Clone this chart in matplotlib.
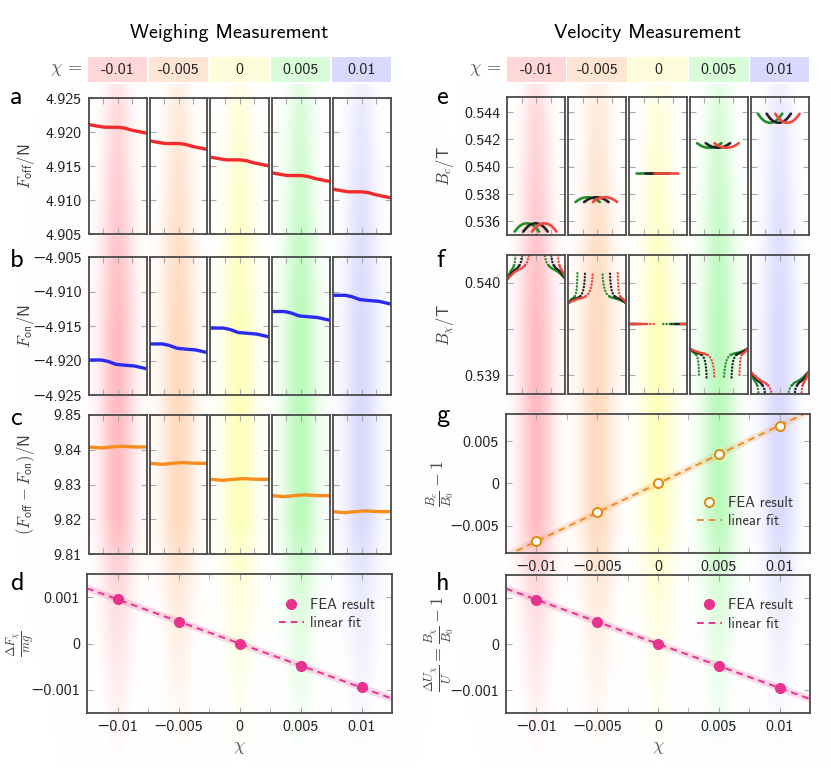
import matplotlib.pyplot as plt
import numpy as np

plt.rcParams['font.family'] = ['cmss10', 'DejaVu Sans']
plt.rcParams['mathtext.fontset'] = 'cm'

W, H = 831, 774

# susceptibility values and header boxes
chi = [-0.01, -0.005, 0, 0.005, 0.01]
chi_labels = ['-0.01', '-0.005', '0', '0.005', '0.01']
chi_ticklabels = ['\u22120.01', '\u22120.005', '0', '0.005', '0.01']
box_colors = ['#ffd7d7', '#ffe6d4', '#fffcdc', '#d9fdd9', '#d9d9fd']
band_colors = [(255, 188, 194), (255, 218, 190), (255, 255, 188), (188, 250, 188), (218, 218, 255)]

# panel a: F_off along each window
a_x = [-1, -0.67, -0.44, 0.02, 0.26, 0.49, 1]
a_shape = [0, -0.00025, -0.0004, -0.0004, -0.00054, -0.00083, -0.00127]
a_start = [4.9211, 4.9187, 4.9163, 4.9140, 4.9116]

# panel b: F_on
b_x = [-1, -0.56, -0.33, -0.05, 0.3, 0.59, 1]
b_shape = [0, 0, -0.0002, -0.00063, -0.00077, -0.00087, -0.00126]
b_start = [-4.91993, -4.9176, -4.9153, -4.9129, -4.91055]

# panel c: F_off - F_on
c_x = [-1, -0.56, -0.21, 0.14, 0.6, 1]
c_shape = [0, -0.0003, 0, 0.0002, 0, 0]
c_start = [9.8408, 9.8361, 9.8315, 9.8268, 9.8222]

# panel d / h / g: FEA results
d_val = [0.000957, 0.000472, 0.0, -0.000478, -0.000948]
h_val = [0.000963, 0.000488, 0.0, -0.000475, -0.000956]
g_val = [-0.00684, -0.0034, 0.0, 0.00343, 0.00683]

# panel e: B_c arcs (green, black, red)
arc_colors = ['#1f8f2a', '#222222', '#f2473f']
arc_center = [-0.33, -0.03, 0.27]
arc_t = [-1, -0.85, -0.7, -0.5, -0.3, -0.1, 0.1, 0.3, 0.5, 0.7, 0.85, 1]
arc_h = [1, 0.72, 0.47, 0.22, 0.07, 0, 0, 0.07, 0.22, 0.47, 0.72, 1]
e_level = [0.53585, 0.53776, 0.53956, 0.54139, 0.54322]
e_height = [0.0006, 0.00035, 0.0, -0.00033, -0.00066]

# panel f: B_chi arms
f_base = [0.54004, 0.53978, 0.53956, 0.53929, 0.53904]
f_scale = [2.0, 1.0, 0.0, -0.92, -2.0]
tips_left = [-0.68, -0.42, -0.15]
tips_right = [0.18, 0.44, 0.71]
arm_u = [0, 0.15, 0.3, 0.45, 0.6, 0.72, 0.8, 0.86, 0.9, 0.93, 0.955, 0.975, 0.99, 1.0]
arm_dy = [0, 0.2, 0.38, 0.5, 0.6, 0.75, 0.92, 1.2, 1.45, 1.75, 2.1, 2.5, 2.95, 3.4]
n_solid = 6

pink = '#e8338e'
orange = '#f08c28'

fig = plt.figure(figsize=(W / 100, H / 100), dpi=100)


def px_axes(x0, y0, x1, y1):
    return fig.add_axes([x0 / W, 1 - y1 / H, (x1 - x0) / W, (y1 - y0) / H])


cols = [(87, 392), (506, 810)]
rows = [[(98, 234), (257, 395), (415, 554), (574, 713)],
        [(97, 235), (255, 394), (414, 553), (575, 713)]]
label_x = [37, 456]


def chi_px(col, c):
    x0, x1 = cols[col]
    return x0 + (c + 0.0125) / 0.025 * (x1 - x0)


# background colour bands
yy = np.arange(H) + 0.5
xx = np.arange(W) + 0.5
amp = np.interp(yy, [84, 110, 250, 330, 520, 575, 650, 720, 765],
                [0.35, 0.55, 0.85, 1.0, 1.0, 0.6, 0.35, 0.15, 0.0])
amp[yy < 84] = 0
sig = np.interp(yy, [84, 300, 560, 760], [9, 12, 12, 7])
img = np.ones((H, W, 3))
for col in range(2):
    for k, c in enumerate(chi):
        cx = chi_px(col, c)
        a = amp[:, None] * np.exp(-0.5 * ((xx[None, :] - cx) / sig[:, None]) ** 2)
        rgb = np.array(band_colors[k]) / 255
        img = img * (1 - a[..., None]) + rgb * a[..., None]
ax_bg = fig.add_axes([0, 0, 1, 1])
ax_bg.imshow(img, extent=(0, W, H, 0), aspect='auto', interpolation='bilinear')
ax_bg.set_xlim(0, W)
ax_bg.set_ylim(H, 0)
ax_bg.axis('off')
ax_bg.set_zorder(-5)

frame_c = '#4a4a4a'
tick_c = '#aaaaaa'


def style(ax):
    ax.set_facecolor('none')
    ax.tick_params(which='both', direction='in', top=True, right=True, length=4,
                   color=tick_c, labelsize=11.5, labelcolor='#222222', pad=5)
    for s in ax.spines.values():
        s.set_color(frame_c)
        s.set_linewidth(1.3)


def small_row(col, row, ylim, yticks, ylabels, ylabel):
    y0, y1 = rows[col][row]
    axes = []
    for k, c in enumerate(chi):
        cx = chi_px(col, c)
        ax = px_axes(cx - 29, y0, cx + 29, y1)
        style(ax)
        ax.set_xlim(-1, 1)
        ax.set_ylim(*ylim)
        ax.set_xticks([-0.5, 0, 0.5])
        ax.set_xticklabels([])
        ax.set_yticks(yticks)
        if k == 0:
            ax.set_yticklabels(ylabels)
            ax.set_ylabel(ylabel, fontsize=12, color='#444444')
            ax.yaxis.set_label_coords((label_x[col] - (cx - 29)) / 58, 0.5)
        else:
            ax.set_yticklabels([])
        axes.append(ax)
    return axes


# a
axs = small_row(0, 0, (4.905, 4.925), [4.905, 4.91, 4.915, 4.92, 4.925],
                ['4.905', '4.910', '4.915', '4.920', '4.925'], r'$F_{\mathsf{off}}/\mathsf{N}$')
for k, ax in enumerate(axs):
    ax.plot(a_x, a_start[k] + np.array(a_shape), color='#f22a2a', lw=2.4, solid_capstyle='butt')

# b
axs = small_row(0, 1, (-4.925, -4.905), [-4.925, -4.92, -4.915, -4.91, -4.905],
                ['\u22124.925', '\u22124.920', '\u22124.915', '\u22124.910', '\u22124.905'],
                r'$F_{\mathsf{on}}/\mathsf{N}$')
for k, ax in enumerate(axs):
    ax.plot(b_x, b_start[k] + np.array(b_shape), color='#2a2af0', lw=2.4, solid_capstyle='butt')

# c
axs = small_row(0, 2, (9.81, 9.85), [9.81, 9.82, 9.83, 9.84, 9.85],
                ['9.81', '9.82', '9.83', '9.84', '9.85'],
                r'$(F_{\mathsf{off}}-F_{\mathsf{on}})/\mathsf{N}$')
for k, ax in enumerate(axs):
    ax.plot(c_x, c_start[k] + np.array(c_shape), color='#f88c1c', lw=2.4, solid_capstyle='butt')

# e
axs = small_row(1, 0, (0.535, 0.5451), [0.536, 0.538, 0.540, 0.542, 0.544],
                ['0.536', '0.538', '0.540', '0.542', '0.544'], r'$B_c/\mathsf{T}$')
for k, ax in enumerate(axs):
    for j, colr in enumerate(arc_colors):
        xs = arc_center[j] + np.array(arc_t) * 0.42
        ys = e_level[k] - np.array(arc_h) * e_height[k]
        ax.plot(xs, ys, color=colr, lw=1.9, solid_capstyle='round')

# f
axs = small_row(1, 1, (0.5388, 0.5403), [0.539, 0.5395, 0.540],
                ['0.539', '', '0.540'], r'$B_\chi/\mathsf{T}$')
u = np.array(arm_u)
for k, ax in enumerate(axs):
    ys = f_base[k] + np.array(arm_dy) * 1e-4 * f_scale[k]
    for j, colr in enumerate(arc_colors):
        xl = -1 + u * (tips_left[j] + 1)
        xr = 1 - u * (1 - tips_right[j])
        for xs in (xl, xr):
            ax.plot(xs[:n_solid], ys[:n_solid], color=colr, lw=1.7, solid_capstyle='round')
            ax.plot(xs[n_solid - 1:], ys[n_solid - 1:], color=colr, lw=1.7,
                    ls=(0, (0.1, 1.3)), dash_capstyle='round')


def big_panel(col, row, vals, ylim, yticks, ylabels, ylabel, open_marker, color, mcolor,
              legend_loc, legend_anchor, xlabel):
    x0, x1 = cols[col]
    y0, y1 = rows[col][row]
    ax = px_axes(x0, y0, x1, y1)
    style(ax)
    ax.set_xlim(-0.0125, 0.0125)
    ax.set_ylim(*ylim)
    ax.set_xticks(chi)
    ax.set_xticklabels(chi_ticklabels)
    ax.set_xticks([-0.0075, -0.0025, 0.0025, 0.0075], minor=True)
    ax.set_yticks(yticks)
    ax.set_yticklabels(ylabels)
    ax.set_ylabel(ylabel, fontsize=13, color='#444444')
    ax.yaxis.set_label_coords((label_x[col] - x0) / (x1 - x0), 0.5)
    coef = np.polyfit(chi, vals, 1)
    xf = np.array([-0.0125, 0.0125])
    ax.plot(xf, np.polyval(coef, xf), color=color, lw=5, alpha=0.18, solid_capstyle='butt')
    ax.plot(xf, np.polyval(coef, xf), color=color, lw=1.4, ls=(0, (3.5, 2.5)), label='linear fit')
    if open_marker:
        ax.plot(chi, vals, 'o', ms=6.5, mfc='white', mec=mcolor, mew=1.4, ls='none',
                label='FEA result')
    else:
        ax.plot(chi, vals, 'o', ms=7, color=mcolor, ls='none', label='FEA result')
    h, l = ax.get_legend_handles_labels()
    ax.legend([h[1], h[0]], [l[1], l[0]], loc=legend_loc, bbox_to_anchor=legend_anchor,
              frameon=False, fontsize=10.5, handlelength=1.7, handletextpad=0.45,
              labelspacing=0.3, borderpad=0, borderaxespad=0, labelcolor='#333333')
    if xlabel:
        ax.set_xlabel(r'$\chi$', fontsize=13, color='#555555', labelpad=4)
    return ax


big_panel(0, 3, d_val, (-0.0015, 0.0015), [-0.001, 0, 0.001], ['\u22120.001', '0', '0.001'],
          r'$\frac{\Delta F_\chi}{mg}$', False, pink, pink, 'upper right', (0.945, 0.83), True)
big_panel(1, 2, g_val, (-0.0082, 0.0082), [-0.005, 0, 0.005], ['\u22120.005', '0', '0.005'],
          r'$\frac{B_c}{B_0}-1$', True, orange, '#e08a0a', 'lower right', (0.945, 0.18), False)
big_panel(1, 3, h_val, (-0.0015, 0.0015), [-0.001, 0, 0.001], ['\u22120.001', '0', '0.001'],
          r'$\frac{\Delta U_\chi}{U}=\frac{B_\chi}{B_0}-1$', False, pink, pink,
          'upper right', (0.945, 0.83), True)

# header boxes
for col in range(2):
    x0, x1 = cols[col]
    axh = px_axes(x0, 57, x1, 82)
    axh.set_xlim(-0.0125, 0.0125)
    axh.set_ylim(0, 1)
    axh.bar(chi, 1, width=0.0049, bottom=0, color=box_colors, align='center')
    for c, lab in zip(chi, chi_labels):
        axh.text(c, 0.5, lab, ha='center', va='center', fontsize=11.5, color='#222222')
    axh.axis('off')
    fig.text((x0 - 5) / W, 1 - 70 / H, r'$\chi\,=$', ha='right', va='center',
             fontsize=13, color='#555555')

fig.text(229 / W, 1 - 33 / H, 'Weighing Measurement', ha='center', va='center', fontsize=14.5)
fig.text(648 / W, 1 - 33 / H, 'Velocity Measurement', ha='center', va='center', fontsize=14.5)

letters = ['a', 'b', 'c', 'd', 'e', 'f', 'g', 'h']
letter_x = [10, 10, 10, 10, 436, 436, 436, 436]
letter_y = [104, 267, 425, 590, 104, 267, 422, 590]
for t, lx, ly in zip(letters, letter_x, letter_y):
    fig.text(lx / W, 1 - ly / H, t, ha='left', va='baseline', fontsize=19)

fig.savefig('out.png', dpi=100)
